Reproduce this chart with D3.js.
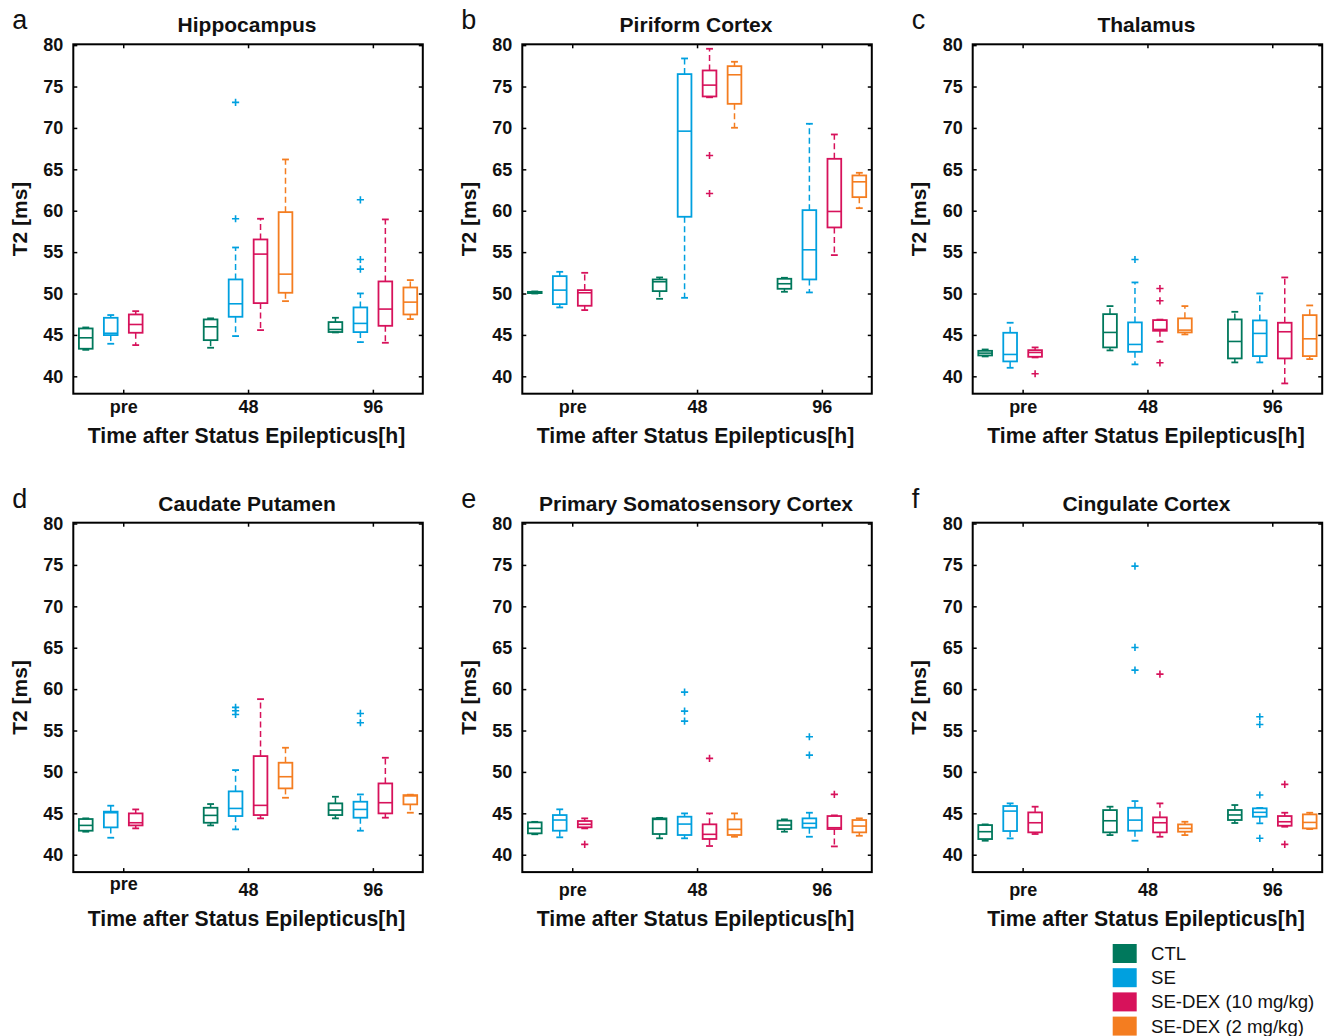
<!DOCTYPE html>
<html>
<head>
<meta charset="utf-8">
<script src="https://cdn.jsdelivr.net/npm/d3@7"></script>
<style>
  html, body { margin: 0; padding: 0; background: #fff; }
  svg { display: block; }
  text { font-family: "Liberation Sans", Arial, Helvetica, sans-serif; fill: #111; }
</style>
</head>
<body>
<svg id="chart" width="1330" height="1036"></svg>
<script>
// ---------------- DATA ----------------
const timepoints = ["pre", "48", "96"];
const groups = ["CTL", "SE", "SE-DEX (10 mg/kg)", "SE-DEX (2 mg/kg)"];
const regions = ["Hippocampus", "Piriform Cortex", "Thalamus",
                 "Caudate Putamen", "Primary Somatosensory Cortex", "Cingulate Cortex"];
const panelLetters = ["a", "b", "c", "d", "e", "f"];
const yTicks = [40, 45, 50, 55, 60, 65, 70, 75, 80];
const yLabel = "T2 [ms]";
const xLabel = "Time after Status Epilepticus[h]";

// rows: [time, group, whiskerLow, q1, median, q3, whiskerHigh]
const hippocampusStats = [
  ["pre", "CTL", 43.2, 43.33, 44.65, 45.78, 45.9],
  ["pre", "SE", 43.93, 44.98, 45.2, 47.07, 47.4],
  ["pre", "SE-DEX (10 mg/kg)", 43.77, 45.26, 46.26, 47.47, 47.87],
  ["48", "CTL", 43.45, 44.37, 45.98, 46.87, 47.0],
  ["48", "SE", 44.86, 47.19, 48.76, 51.7, 55.56],
  ["48", "SE-DEX (10 mg/kg)", 45.58, 48.84, 54.76, 56.53, 59.03],
  ["48", "SE-DEX (2 mg/kg)", 49.08, 50.09, 52.34, 59.83, 66.19],
  ["96", "CTL", 45.3, 45.35, 45.66, 46.55, 47.07],
  ["96", "SE", 44.13, 45.34, 46.39, 48.32, 50.01],
  ["96", "SE-DEX (10 mg/kg)", 44.05, 46.1, 48.12, 51.46, 58.95],
  ["96", "SE-DEX (2 mg/kg)", 46.91, 47.47, 48.96, 50.73, 51.62]
];
const hippocampusOutliers = [
  ["48", "SE", 73.08], ["48", "SE", 59.03],
  ["96", "SE", 61.32], ["96", "SE", 54.11], ["96", "SE", 52.95]
];

const piriformStats = [
  ["pre", "CTL", 50.0, 50.05, 50.13, 50.2, 50.25],
  ["pre", "SE", 48.32, 48.72, 50.41, 52.1, 52.62],
  ["pre", "SE-DEX (10 mg/kg)", 48.0, 48.52, 50.09, 50.41, 52.5],
  ["48", "CTL", 49.36, 50.29, 51.42, 51.7, 51.94],
  ["48", "SE", 49.48, 59.27, 69.61, 76.5, 78.39],
  ["48", "SE-DEX (10 mg/kg)", 73.7, 73.8, 75.17, 76.94, 79.56],
  ["48", "SE-DEX (2 mg/kg)", 70.02, 72.91, 76.42, 77.46, 77.99],
  ["96", "CTL", 50.21, 50.57, 51.18, 51.78, 51.9],
  ["96", "SE", 50.13, 51.7, 55.28, 60.07, 70.5],
  ["96", "SE-DEX (10 mg/kg)", 54.64, 57.98, 59.91, 66.27, 69.21],
  ["96", "SE-DEX (2 mg/kg)", 60.31, 61.64, 63.49, 64.26, 64.58]
];
const piriformOutliers = [
  ["48", "SE-DEX (10 mg/kg)", 66.67], ["48", "SE-DEX (10 mg/kg)", 62.08]
];

const thalamusStats = [
  ["pre", "CTL", 42.4, 42.52, 42.8, 43.08, 43.24],
  ["pre", "SE", 41.03, 41.8, 42.64, 45.26, 46.47],
  ["pre", "SE-DEX (10 mg/kg)", 42.28, 42.36, 42.88, 43.16, 43.49],
  ["48", "CTL", 43.13, 43.49, 45.3, 47.51, 48.48],
  ["48", "SE", 41.44, 42.96, 43.85, 46.51, 51.34],
  ["48", "SE-DEX (10 mg/kg)", 44.17, 45.5, 45.66, 46.79, 46.85],
  ["48", "SE-DEX (2 mg/kg)", 45.06, 45.3, 45.58, 47.0, 48.48],
  ["96", "CTL", 41.68, 42.16, 44.21, 46.87, 47.79],
  ["96", "SE", 41.68, 42.44, 45.18, 46.75, 50.01],
  ["96", "SE-DEX (10 mg/kg)", 39.14, 42.16, 45.38, 46.47, 51.94],
  ["96", "SE-DEX (2 mg/kg)", 42.08, 42.44, 44.53, 47.39, 48.56]
];
const thalamusOutliers = [
  ["pre", "SE-DEX (10 mg/kg)", 40.31],
  ["48", "SE", 54.11],
  ["48", "SE-DEX (10 mg/kg)", 50.6], ["48", "SE-DEX (10 mg/kg)", 49.12], ["48", "SE-DEX (10 mg/kg)", 41.63]
];

const caudateStats = [
  ["pre", "CTL", 42.78, 42.9, 43.54, 44.31, 44.39],
  ["pre", "SE", 42.05, 43.3, 45.07, 45.2, 45.92],
  ["pre", "SE-DEX (10 mg/kg)", 43.18, 43.54, 43.86, 44.99, 45.47],
  ["48", "CTL", 43.54, 43.86, 44.75, 45.67, 46.12],
  ["48", "SE", 43.06, 44.67, 45.59, 47.65, 50.22],
  ["48", "SE-DEX (10 mg/kg)", 44.39, 44.79, 45.96, 51.91, 58.79],
  ["48", "SE-DEX (2 mg/kg)", 46.88, 48.01, 49.42, 51.11, 52.92],
  ["96", "CTL", 44.39, 44.79, 45.39, 46.2, 47.0],
  ["96", "SE", 42.9, 44.47, 45.47, 46.4, 47.28],
  ["96", "SE-DEX (10 mg/kg)", 44.47, 44.99, 46.28, 48.61, 51.71],
  ["96", "SE-DEX (2 mg/kg)", 45.07, 46.08, 47.1, 47.2, 47.25]
];
const caudateOutliers = [
  ["48", "SE", 57.79], ["48", "SE", 57.38], ["48", "SE", 56.94],
  ["96", "SE", 57.06], ["96", "SE", 55.94]
];

const somatosensoryStats = [
  ["pre", "CTL", 42.47, 42.58, 43.18, 43.91, 43.97],
  ["pre", "SE", 42.1, 42.9, 44.19, 44.79, 45.48],
  ["pre", "SE-DEX (10 mg/kg)", 43.18, 43.31, 43.67, 44.07, 44.39],
  ["48", "CTL", 41.98, 42.5, 44.27, 44.39, 44.45],
  ["48", "SE", 41.98, 42.38, 43.7, 44.59, 44.99],
  ["48", "SE-DEX (10 mg/kg)", 41.05, 41.9, 42.46, 43.67, 44.99],
  ["48", "SE-DEX (2 mg/kg)", 42.17, 42.38, 43.06, 44.27, 44.99],
  ["96", "CTL", 42.78, 43.1, 43.58, 44.12, 44.27],
  ["96", "SE", 42.17, 43.26, 43.79, 44.39, 45.07],
  ["96", "SE-DEX (10 mg/kg)", 41.0, 43.1, 43.26, 44.67, 44.75],
  ["96", "SE-DEX (2 mg/kg)", 42.29, 42.7, 43.46, 44.19, 44.39]
];
const somatosensoryOutliers = [
  ["pre", "SE-DEX (10 mg/kg)", 41.25],
  ["48", "SE", 59.64], ["48", "SE", 57.34], ["48", "SE", 56.14],
  ["48", "SE-DEX (10 mg/kg)", 51.63],
  ["96", "SE", 54.25], ["96", "SE", 52.03],
  ["96", "SE-DEX (10 mg/kg)", 47.29]
];

const cingulateStats = [
  ["pre", "CTL", 41.69, 41.89, 42.78, 43.58, 43.66],
  ["pre", "SE", 41.97, 42.86, 45.27, 45.88, 46.2],
  ["pre", "SE-DEX (10 mg/kg)", 42.5, 42.7, 43.86, 45.11, 45.8],
  ["48", "CTL", 42.37, 42.7, 44.1, 45.39, 45.8],
  ["48", "SE", 41.69, 42.9, 44.18, 45.67, 46.48],
  ["48", "SE-DEX (10 mg/kg)", 42.17, 42.7, 43.86, 44.51, 46.2],
  ["48", "SE-DEX (2 mg/kg)", 42.37, 42.78, 43.18, 43.66, 43.98],
  ["96", "CTL", 43.83, 44.19, 44.8, 45.4, 46.0],
  ["96", "SE", 43.79, 44.59, 45.12, 45.6, 45.65],
  ["96", "SE-DEX (10 mg/kg)", 43.38, 43.5, 43.98, 44.67, 45.07],
  ["96", "SE-DEX (2 mg/kg)", 43.1, 43.18, 43.9, 44.87, 45.07]
];
const cingulateOutliers = [
  ["48", "SE", 74.85], ["48", "SE", 65.03], ["48", "SE", 62.29],
  ["48", "SE-DEX (10 mg/kg)", 61.81],
  ["96", "SE", 56.66], ["96", "SE", 55.73], ["96", "SE", 47.21], ["96", "SE", 41.98],
  ["96", "SE-DEX (10 mg/kg)", 48.5], ["96", "SE-DEX (10 mg/kg)", 41.25]
];

const statsByRegion = [hippocampusStats, piriformStats, thalamusStats,
                       caudateStats, somatosensoryStats, cingulateStats];
const outliersByRegion = [hippocampusOutliers, piriformOutliers, thalamusOutliers,
                          caudateOutliers, somatosensoryOutliers, cingulateOutliers];

// ---------------- STYLE / LAYOUT ----------------
const groupColors = ["#00785C", "#00A0DF", "#D7125B", "#F47D20"];
const colLeft = [73.3, 522.3, 972.7];
const rowTop = [44.3, 522.7];
const W = 349.5, H = 349.4;
const groupOffset = [-0.3, -0.1, 0.1, 0.3];
const boxWidthUnits = 0.11;

const svg = d3.select("#chart");
const color = d3.scaleOrdinal().domain(groups).range(groupColors);

regions.forEach((region, i) => {
  const col = i % 3, row = Math.floor(i / 3);
  const left = colLeft[col], top = rowTop[row];
  const g = svg.append("g").attr("transform", `translate(${left},${top})`);

  const x = d3.scaleLinear().domain([0.6, 3.4]).range([0, W]);
  const y = d3.scaleLinear().domain([37.9, 80.1]).range([H, 0]);
  const tIndex = t => timepoints.indexOf(t) + 1;
  const bw = x(boxWidthUnits) - x(0);
  const xPos = (t, grp) => x(tIndex(t) + groupOffset[groups.indexOf(grp)]);

  // axes (ticks pointing inward)
  const yAxisL = d3.axisLeft(y).tickValues(yTicks).tickSize(-4).tickPadding(10);
  const yAxisR = d3.axisRight(y).tickValues(yTicks).tickSize(-4).tickFormat("");
  const xAxisT = d3.axisTop(x).tickValues([1, 2, 3]).tickSize(-4).tickFormat("");
  const xPad = row === 0 ? 6.2 : 11.6;
  const xAxisB = d3.axisBottom(x).tickValues([1, 2, 3]).tickSize(-4).tickPadding(xPad)
      .tickFormat(d => timepoints[d - 1]);

  const axStyle = sel => {
    sel.select(".domain").remove();
    sel.selectAll(".tick line").attr("stroke", "#000").attr("stroke-width", 1.5);
    sel.selectAll(".tick text").attr("font-size", 18).attr("font-weight", "bold")
      .attr("fill", "#111").attr("font-family", '"Liberation Sans", Arial, sans-serif');
  };
  g.append("g").call(yAxisL).call(axStyle);
  g.append("g").attr("transform", `translate(${W},0)`).call(yAxisR).call(axStyle);
  g.append("g").call(xAxisT).call(axStyle);
  const bAx = g.append("g").attr("transform", `translate(0,${H})`).call(xAxisB).call(axStyle);
  if (i === 3) {
    // in panel d the "pre" label sits slightly higher
    bAx.selectAll(".tick text").filter(d => d === 1).attr("y", 5.6);
  }

  // frame
  g.append("rect").attr("x", 0).attr("y", 0).attr("width", W).attr("height", H)
    .attr("fill", "none").attr("stroke", "#000").attr("stroke-width", 2);

  // boxes
  const stats = statsByRegion[i];
  stats.forEach(s => {
    const [t, grp, lo, q1, med, q3, hi] = s;
    const cx = xPos(t, grp);
    const c = color(grp);
    const bg = g.append("g").attr("stroke", c).attr("fill", "none");
    // whiskers (dashed)
    bg.append("line").attr("x1", cx).attr("x2", cx).attr("y1", y(q3)).attr("y2", y(hi))
      .attr("stroke-width", 1.5).attr("stroke-dasharray", "6,3.5");
    bg.append("line").attr("x1", cx).attr("x2", cx).attr("y1", y(q1)).attr("y2", y(lo))
      .attr("stroke-width", 1.5).attr("stroke-dasharray", "6,3.5");
    // caps
    [lo, hi].forEach(v => {
      bg.append("line").attr("x1", cx - bw * 0.25).attr("x2", cx + bw * 0.25)
        .attr("y1", y(v)).attr("y2", y(v)).attr("stroke-width", 1.8);
    });
    // box
    bg.append("rect").attr("x", cx - bw / 2).attr("width", bw)
      .attr("y", y(q3)).attr("height", Math.max(0.5, y(q1) - y(q3)))
      .attr("stroke-width", 1.8).attr("fill", "none");
    // median
    bg.append("line").attr("x1", cx - bw / 2).attr("x2", cx + bw / 2)
      .attr("y1", y(med)).attr("y2", y(med)).attr("stroke-width", 1.6);
  });

  // outliers (+)
  const outs = outliersByRegion[i];
  g.selectAll(".out").data(outs).enter().append("path")
    .attr("d", d => {
      const cx = xPos(d[0], d[1]), cy = y(d[2]), r = 3.6;
      return `M${cx - r},${cy}H${cx + r}M${cx},${cy - r}V${cy + r}`;
    })
    .attr("stroke", d => color(d[1])).attr("stroke-width", 1.6).attr("fill", "none");

  // title
  g.append("text").attr("x", W / 2 - 1).attr("y", -12).attr("text-anchor", "middle")
    .attr("font-size", 21).attr("font-weight", "bold").text(region);
  // x label
  g.append("text").attr("x", W / 2 - 1.5).attr("y", H + (row === 0 ? 49 : 54.4))
    .attr("text-anchor", "middle").attr("font-size", 21.2).attr("font-weight", "bold").text(xLabel);
  // y label
  g.append("text").attr("transform", `translate(${-46.6},${H / 2}) rotate(-90)`)
    .attr("text-anchor", "middle").attr("font-size", 21).attr("font-weight", "bold").text(yLabel);
  // panel letter
  g.append("text").attr("x", -61).attr("y", -15).attr("font-size", 27).text(panelLetters[i]);
});

// legend
const legend = svg.append("g").attr("transform", "translate(1112.7,944)");
groups.forEach((grp, k) => {
  legend.append("rect").attr("x", 0).attr("y", k * 24.2).attr("width", 24).attr("height", 19)
    .attr("fill", color(grp));
  legend.append("text").attr("x", 38.3).attr("y", k * 24.2 + 9.5).attr("dy", "0.35em")
    .attr("font-size", 18.6).attr("fill", "#1a1a1a").text(grp);
});
</script>
</body>
</html>
